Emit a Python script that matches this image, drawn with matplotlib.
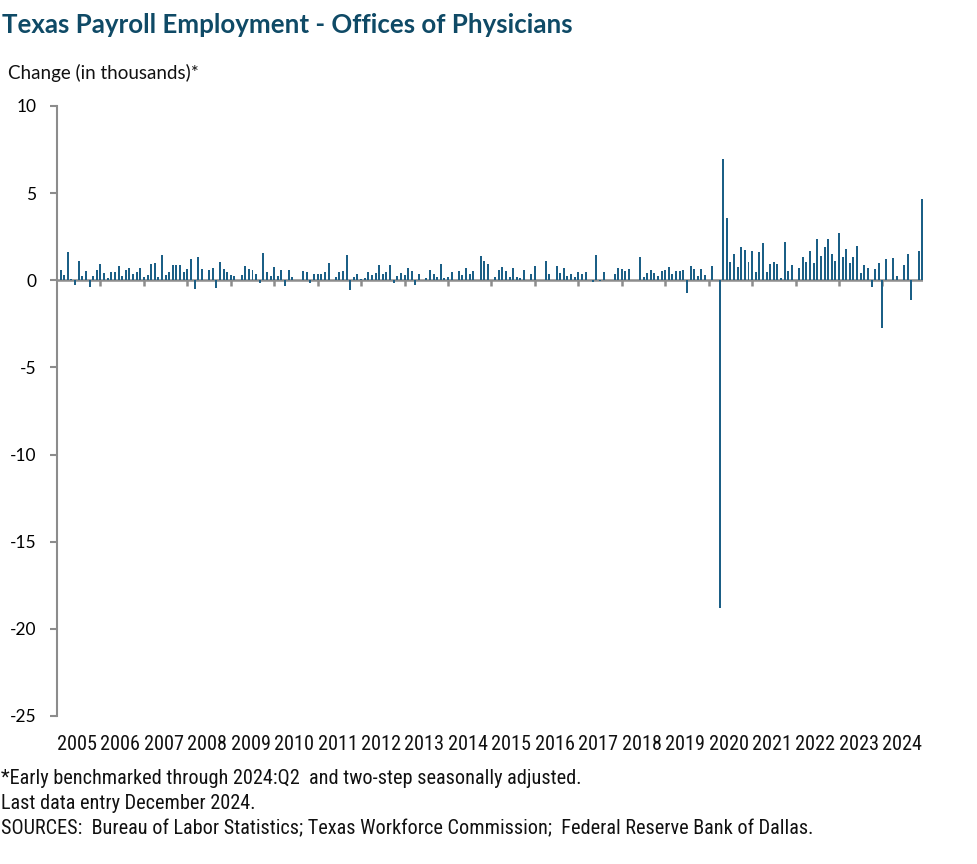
import matplotlib
matplotlib.use("Agg")
import matplotlib.pyplot as plt
import numpy as np
from matplotlib import font_manager

# monthly change, Jan 2005 .. Dec 2024 (thousands)
values_2005_2008 = [
    0.30, 0.59, 0.29, 1.62, 0.05, -0.29, 1.10, 0.23, 0.53, -0.40, 0.23, 0.59,
    0.93, 0.42, 0.13, 0.46, 0.46, 0.82, 0.23, 0.59, 0.71, 0.34, 0.48, 0.71,
    0.17, 0.29, 0.93, 0.97, 0.19, 1.45, 0.31, 0.46, 0.86, 0.86, 0.86, 0.46,
    0.65, 1.22, -0.50, 1.34, 0.65, 0.00, 0.59, 0.71, -0.44, 1.03, 0.65, 0.48,
]
values_2009_2012 = [
    0.30, 0.23, 0.00, 0.29, 0.80, 0.63, 0.57, 0.34, -0.17, 1.55, 0.46, 0.23,
    0.74, 0.23, 0.57, -0.34, 0.57, 0.19, 0.03, 0.03, 0.52, 0.46, -0.17, 0.34,
    0.34, 0.34, 0.46, 0.97, 0.00, 0.19, 0.46, 0.52, 1.45, -0.57, 0.17, 0.34,
    0.05, 0.13, 0.46, 0.29, 0.40, 0.86, 0.34, 0.46, 0.86, -0.17, 0.23, 0.40,
]
values_2013_2016 = [
    0.29, 0.69, 0.52, -0.29, 0.34, 0.00, 0.13, 0.57, 0.34, 0.19, 0.93, 0.11,
    0.17, 0.46, 0.00, 0.52, 0.29, 0.69, 0.34, 0.52, 0.00, 1.39, 1.09, 0.93,
    0.00, 0.17, 0.57, 0.74, 0.52, 0.19, 0.69, 0.19, 0.13, 0.57, 0.00, 0.34,
    0.80, 0.00, 0.00, 1.09, 0.34, 0.00, 0.80, 0.40, 0.69, 0.23, 0.34, 0.17,
]
values_2017_2020 = [
    0.46, 0.34, 0.46, 0.00, -0.10, 1.45, -0.05, 0.46, 0.00, 0.00, 0.34, 0.71,
    0.65, 0.52, 0.63, 0.00, 0.00, 1.34, 0.17, 0.40, 0.57, 0.40, 0.23, 0.52,
    0.57, 0.76, 0.34, 0.52, 0.52, 0.57, -0.73, 0.80, 0.63, 0.23, 0.63, 0.29,
    0.00, 0.82, 0.00, -18.80, 6.97, 3.55, 1.03, 1.49, 0.74, 1.89, 1.72, 1.03,
]
values_2021_2024 = [
    1.66, 0.46, 1.60, 2.12, 0.46, 0.92, 1.03, 0.92, 0.11, 2.18, 0.52, 0.86,
    0.00, 0.69, 1.32, 1.03, 1.66, 0.97, 2.35, 1.37, 1.89, 2.35, 1.49, 1.09,
    2.69, 1.32, 1.79, 0.97, 1.32, 1.95, 0.40, 0.86, 0.69, -0.40, 0.63, 0.97,
    -2.75, 1.20, 0.00, 1.28, 0.23, 0.00, 0.86, 1.49, -1.15, 0.00, 1.66, 4.69,
]
values = values_2005_2008 + values_2009_2012 + values_2013_2016 + values_2017_2020 + values_2021_2024
years = list(range(2005, 2025))
y_ticks = [-25, -20, -15, -10, -5, 0, 5, 10]

title = "Texas Payroll Employment - Offices of Physicians"
y_title = "Change (in thousands)*"
notes = [
    "*Early benchmarked through 2024:Q2  and two-step seasonally adjusted.",
    "Last data entry December 2024.",
    "SOURCES:  Bureau of Labor Statistics; Texas Workforce Commission;  Federal Reserve Bank of Dallas.",
]

BAR = "#1b5f86"
AXIS = "#8c8c8c"
TITLE = "#0f4a66"


def _narrow_font():
    """pick a condensed family if one is installed, else a regular one at smaller size"""
    available = {f.name for f in font_manager.fontManager.ttflist}
    for name in ["Liberation Sans Narrow", "Roboto Condensed", "DejaVu Sans Condensed",
                 "Open Sans Condensed", "Noto Sans Condensed"]:
        if name in available:
            return name, 14.6
    return "Roboto", 13.5


narrow, narrow_size = _narrow_font()
plt.rcParams["font.family"] = ["Lato", "DejaVu Sans"]

fig = plt.figure(figsize=(9.77, 8.64), dpi=100)
ax = fig.add_axes([57 / 977, 1 - 716 / 864, 866 / 977, 610 / 864])

x = np.arange(len(values))
ax.bar(x, values, width=0.55, color=BAR, zorder=2)

ax.set_xlim(0, len(values) - 0.8)
ax.set_ylim(-25, 10)
ax.set_yticks(y_ticks)
ax.set_yticklabels([str(v) for v in y_ticks], fontsize=12.5)
ax.tick_params(axis="y", direction="out", length=5, width=1.5, color=AXIS, pad=10)
ax.set_xticks([])

for side in ["top", "right", "bottom"]:
    ax.spines[side].set_visible(False)
ax.spines["left"].set_color(AXIS)
ax.spines["left"].set_linewidth(1.5)

# zero line with year boundary ticks
ax.axhline(0, color=AXIS, linewidth=1.8, zorder=1)
for j in range(1, len(years)):
    ax.plot([12 * j, 12 * j], [0, -0.34], color=AXIS, linewidth=1.8, zorder=1, solid_capstyle="butt")

for j, yr in enumerate(years):
    ax.text(12 * j + 5.5, -0.047, str(yr), transform=ax.get_xaxis_transform(),
            ha="center", va="center", fontsize=narrow_size, family=[narrow, "DejaVu Sans"],
            color="#111111")

fig.text(2 / 977, 1 - 25 / 864, title, fontsize=18.6, fontweight="bold", color=TITLE,
         ha="left", va="center")
fig.text(8 / 977, 1 - 73 / 864, y_title, fontsize=13.5, ha="left", va="center", color="#111111")

for i, line in enumerate(notes):
    fig.text(1 / 977, 1 - (778 + 25.5 * i) / 864, line, fontsize=narrow_size,
             family=[narrow, "DejaVu Sans"], ha="left", va="center", color="#111111")

fig.savefig("out.png", dpi=100)
